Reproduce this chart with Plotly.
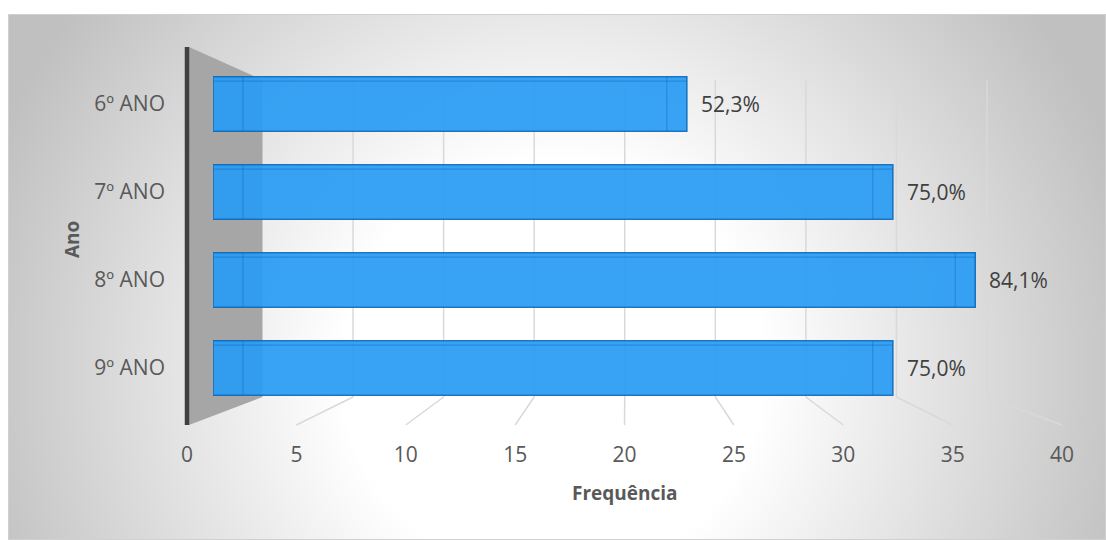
import base64
import plotly.graph_objects as go

# ---------------- data ----------------
categories = ["6º ANO", "7º ANO", "8º ANO", "9º ANO"]
frequencies = [23, 33, 37, 33]
percent_labels = ["52,3%", "75,0%", "84,1%", "75,0%"]
tick_values = [0, 5, 10, 15, 20, 25, 30, 35, 40]
tick_text = ["0", "5", "10", "15", "20", "25", "30", "35", "40"]
x_title = "Frequência"
y_title = "Ano"

# ---------------- geometry (pixels) ----------------
W, H = 1106, 540
def px(x):
    return x / W
def py(y):
    return 1 - y / H

X_MAX = 40
FRONT_X0, FRONT_X1 = 187, 1062     # floor front edge (tick labels)
BAR_X0, BAR_X1 = 213, 1037         # plane of the bars
BACK_X0, BACK_X1 = 262.5, 987      # back wall
FRONT_Y, BACK_Y = 425, 397         # floor front / back
TOP_FRONT_Y, TOP_BACK_Y = 47, 80   # top of the side wall
BAR_TOP, BAR_BOTTOM = 60, 412      # band of the category axis
BAR_WIDTH = 0.62
DEPTH_UNITS = 30 / ((BAR_X1 - BAR_X0) / X_MAX)   # bar depth edge, in data units
END_UNITS = 20 / ((BAR_X1 - BAR_X0) / X_MAX)

def front_x(v):
    return FRONT_X0 + (FRONT_X1 - FRONT_X0) * v / X_MAX
def back_x(v):
    return BACK_X0 + (BACK_X1 - BACK_X0) * v / X_MAX

FONT = "Open Sans"
GRID = "#d9d9d9"
cat_order = categories[::-1]   # bottom to top

fig = go.Figure()

fig.add_trace(go.Bar(
    y=categories, x=frequencies, orientation="h",
    marker=dict(color="#2a9df4", line=dict(color="#0a6cbf", width=1.6)),
    opacity=0.93, width=BAR_WIDTH, hoverinfo="skip",
    xaxis="x", yaxis="y",
))

# invisible trace to carry the front tick axis
fig.add_trace(go.Scatter(x=[0, X_MAX], y=[0, 1], mode="markers",
                         marker=dict(opacity=0), hoverinfo="skip",
                         xaxis="x2", yaxis="y2", showlegend=False))

shapes = []
# side wall
shapes.append(dict(
    type="path", xref="paper", yref="paper", layer="below",
    path=(f"M {px(FRONT_X0 + 2)},{py(TOP_FRONT_Y)} L {px(BACK_X0)},{py(TOP_BACK_Y)} "
          f"L {px(BACK_X0)},{py(BACK_Y)} L {px(FRONT_X0 + 2)},{py(FRONT_Y)} Z"),
    fillcolor="#a6a6a6", line=dict(width=0)))
# back-wall gridlines and floor lines
for v in tick_values[1:]:
    shapes.append(dict(type="line", xref="paper", yref="paper", layer="below",
                       x0=px(back_x(v)), x1=px(back_x(v)),
                       y0=py(TOP_BACK_Y), y1=py(BACK_Y),
                       line=dict(color=GRID, width=1.5)))
    shapes.append(dict(type="line", xref="paper", yref="paper", layer="below",
                       x0=px(front_x(v)), x1=px(back_x(v)),
                       y0=py(FRONT_Y), y1=py(BACK_Y),
                       line=dict(color=GRID, width=1.5)))
# dark vertical axis line
shapes.append(dict(type="line", xref="paper", yref="paper", layer="below",
                   x0=px(FRONT_X0), x1=px(FRONT_X0),
                   y0=py(TOP_FRONT_Y), y1=py(FRONT_Y),
                   line=dict(color="#404040", width=4.5)))

# 3D edge hints on each bar (inner edges of the prism)
for cat, val in zip(categories, frequencies):
    j = cat_order.index(cat)
    half = BAR_WIDTH / 2
    edge = dict(color="rgba(10,100,180,0.4)", width=1.2)
    shapes.append(dict(type="line", xref="x", yref="y", layer="above",
                       x0=DEPTH_UNITS, x1=DEPTH_UNITS, y0=j - half, y1=j + half,
                       line=edge))
    shapes.append(dict(type="line", xref="x", yref="y", layer="above",
                       x0=val - END_UNITS, x1=val - END_UNITS, y0=j - half, y1=j + half,
                       line=edge))
    shapes.append(dict(type="line", xref="x", yref="y", layer="above",
                       x0=0, x1=val,
                       y0=j + half * 0.84, y1=j + half * 0.84,
                       line=edge))

annotations = []
for cat, val, lab in zip(categories, frequencies, percent_labels):
    annotations.append(dict(x=val, y=cat, xref="x", yref="y", text=lab,
                            showarrow=False, xanchor="left", yanchor="middle", xshift=12,
                            font=dict(family=FONT, size=21, color="#404040")))
annotations.append(dict(x=px(625), y=py(493), xref="paper", yref="paper",
                        text=f"<b>{x_title}</b>", showarrow=False,
                        xanchor="center", yanchor="middle",
                        font=dict(family=FONT, size=19, color="#595959")))
annotations.append(dict(x=px(72), y=py(240), xref="paper", yref="paper",
                        text=f"<b>{y_title}</b>", showarrow=False, textangle=-90,
                        xanchor="center", yanchor="middle",
                        font=dict(family=FONT, size=19, color="#595959")))

# background gradient
svg = (
    '<svg xmlns="http://www.w3.org/2000/svg" width="1098" height="526" '
    'viewBox="0 0 1098 526" preserveAspectRatio="none">'
    '<defs><radialGradient id="g" gradientUnits="userSpaceOnUse" cx="545" cy="356" r="600">'
    '<stop offset="0" stop-color="#ffffff"/><stop offset="0.35" stop-color="#ffffff"/>'
    '<stop offset="1" stop-color="#c0c0c0"/></radialGradient></defs>'
    '<rect x="0" y="0" width="1098" height="526" fill="url(#g)"/>'
    '<rect x="0.5" y="0.5" width="1097" height="525" fill="none" stroke="#d0d0d0" stroke-width="1"/>'
    '</svg>'
)
img_src = "data:image/svg+xml;base64," + base64.b64encode(svg.encode()).decode()

fig.update_layout(
    width=W, height=H, autosize=False,
    margin=dict(l=0, r=0, t=0, b=0),
    paper_bgcolor="white", plot_bgcolor="rgba(0,0,0,0)",
    showlegend=False,
    images=[dict(source=img_src, xref="paper", yref="paper",
                 x=px(8), y=py(14), sizex=1098 / W, sizey=526 / H,
                 xanchor="left", yanchor="top", sizing="stretch", layer="below")],
    shapes=shapes,
    annotations=annotations,
    xaxis=dict(domain=[px(BAR_X0), px(BAR_X1)], range=[0, X_MAX], visible=False,
               anchor="y", fixedrange=True),
    yaxis=dict(domain=[py(BAR_BOTTOM), py(BAR_TOP)], type="category",
               categoryorder="array", categoryarray=cat_order,
               range=[-0.5, len(categories) - 0.5],
               anchor="x", showgrid=False, showline=False, zeroline=False,
               ticks="", ticklabelstandoff=47, automargin=False,
               tickfont=dict(family=FONT, size=21, color="#595959")),
    xaxis2=dict(domain=[px(FRONT_X0), px(FRONT_X1)], range=[0, X_MAX],
                anchor="y2", tickmode="array", tickvals=tick_values, ticktext=tick_text,
                showgrid=False, showline=False, zeroline=False, ticks="",
                ticklabelstandoff=15, automargin=False,
                tickfont=dict(family=FONT, size=21, color="#595959")),
    yaxis2=dict(domain=[py(FRONT_Y), py(TOP_FRONT_Y)], range=[0, 1], visible=False,
                anchor="x2"),
)

fig.write_html("out.html")
